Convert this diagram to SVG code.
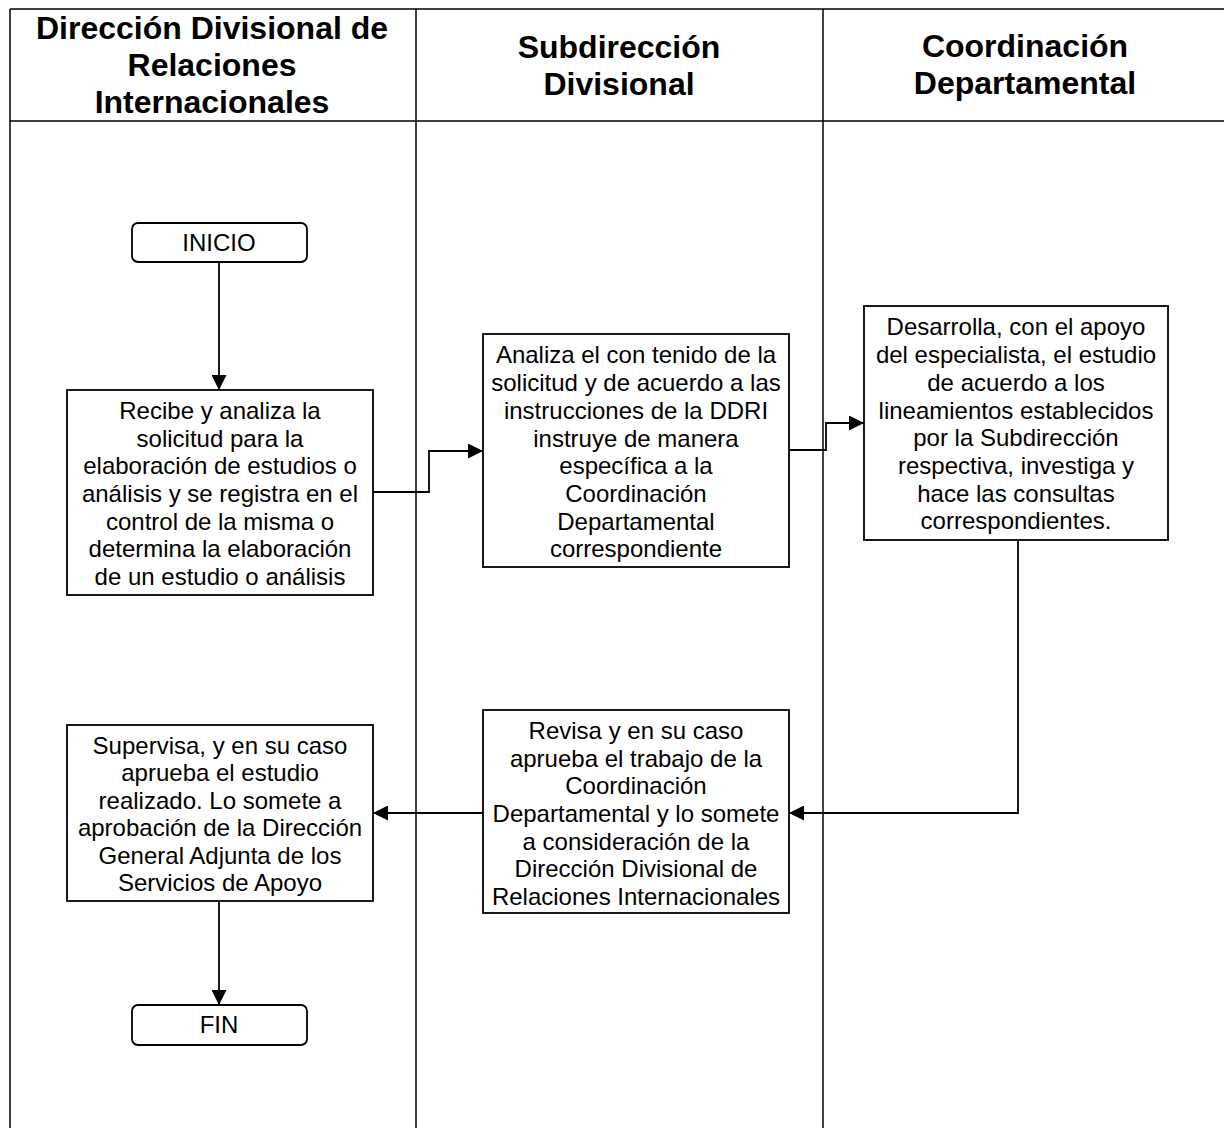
<svg xmlns="http://www.w3.org/2000/svg" width="1224" height="1128" viewBox="0 0 1224 1128">
<defs>
<style>
.frame{fill:none;stroke:#000;stroke-width:1.5}
.box{fill:#fff;stroke:#000;stroke-width:1.8}
.hd{font-family:"Liberation Sans",Arial,sans-serif;font-weight:bold;font-size:32px;text-anchor:middle;fill:#000}
.tx{font-family:"Liberation Sans",Arial,sans-serif;font-size:24px;text-anchor:middle;fill:#000}
.ln{fill:none;stroke:#000;stroke-width:1.8}
</style>
<marker id="ah" viewBox="0 0 10 10" refX="10" refY="5" markerWidth="15" markerHeight="15" markerUnits="userSpaceOnUse" orient="auto">
<path d="M0,0 L10,5 L0,10 z" fill="#000"/>
</marker>
</defs>
<rect width="1224" height="1128" fill="#fff"/>
<g id="frame">
<line class="frame" x1="10" y1="9" x2="1224" y2="9"/>
<line class="frame" x1="10" y1="121" x2="1224" y2="121"/>
<line class="frame" x1="10" y1="9" x2="10" y2="1128"/>
<line class="frame" x1="416" y1="9" x2="416" y2="1128"/>
<line class="frame" x1="823" y1="9" x2="823" y2="1128"/>
</g>
<g id="headers">
<text class="hd" x="212" y="39">Dirección Divisional de</text>
<text class="hd" x="212" y="76">Relaciones</text>
<text class="hd" x="212" y="113">Internacionales</text>
<text class="hd" x="619" y="58">Subdirección</text>
<text class="hd" x="619" y="95">Divisional</text>
<text class="hd" x="1025" y="57">Coordinación</text>
<text class="hd" x="1025" y="94">Departamental</text>
</g>
<g id="connectors">
<line class="ln" x1="219" y1="262" x2="219" y2="390" marker-end="url(#ah)"/>
<polyline class="ln" points="373,492 429,492 429,451 483,451" marker-end="url(#ah)"/>
<polyline class="ln" points="789,450 826,450 826,423 864,423" marker-end="url(#ah)"/>
<polyline class="ln" points="1018,540 1018,813 789,813" marker-end="url(#ah)"/>
<line class="ln" x1="483" y1="813" x2="373" y2="813" marker-end="url(#ah)"/>
<line class="ln" x1="219" y1="901" x2="219" y2="1005" marker-end="url(#ah)"/>
</g>
<g id="inicio">
<rect class="box" x="132" y="223" width="175" height="39" rx="6"/>
<text class="tx" x="219" y="251">INICIO</text>
</g>
<g id="recibe">
<rect class="box" x="67" y="390" width="306" height="205"/>
<text class="tx" x="220" y="419">Recibe y analiza la</text>
<text class="tx" x="220" y="447">solicitud para la</text>
<text class="tx" x="220" y="474">elaboración de estudios o</text>
<text class="tx" x="220" y="502">análisis y se registra en el</text>
<text class="tx" x="220" y="530">control de la misma o</text>
<text class="tx" x="220" y="557">determina la elaboración</text>
<text class="tx" x="220" y="585">de un estudio o análisis</text>
</g>
<g id="analiza">
<rect class="box" x="483" y="334" width="306" height="233"/>
<text class="tx" x="636" y="363">Analiza el con tenido de la</text>
<text class="tx" x="636" y="391">solicitud y de acuerdo a las</text>
<text class="tx" x="636" y="419">instrucciones de la DDRI</text>
<text class="tx" x="636" y="447">instruye de manera</text>
<text class="tx" x="636" y="474">específica a la</text>
<text class="tx" x="636" y="502">Coordinación</text>
<text class="tx" x="636" y="530">Departamental</text>
<text class="tx" x="636" y="557">correspondiente</text>
</g>
<g id="desarrolla">
<rect class="box" x="864" y="306" width="304" height="234"/>
<text class="tx" x="1016" y="335">Desarrolla, con el apoyo</text>
<text class="tx" x="1016" y="363">del especialista, el estudio</text>
<text class="tx" x="1016" y="391">de acuerdo a los</text>
<text class="tx" x="1016" y="419">lineamientos establecidos</text>
<text class="tx" x="1016" y="446">por la Subdirección</text>
<text class="tx" x="1016" y="474">respectiva, investiga y</text>
<text class="tx" x="1016" y="502">hace las consultas</text>
<text class="tx" x="1016" y="529">correspondientes.</text>
</g>
<g id="revisa">
<rect class="box" x="483" y="710" width="306" height="203"/>
<text class="tx" x="636" y="739">Revisa y en su caso</text>
<text class="tx" x="636" y="767">aprueba el trabajo de la</text>
<text class="tx" x="636" y="794">Coordinación</text>
<text class="tx" x="636" y="822">Departamental y lo somete</text>
<text class="tx" x="636" y="850">a consideración de la</text>
<text class="tx" x="636" y="877">Dirección Divisional de</text>
<text class="tx" x="636" y="905">Relaciones Internacionales</text>
</g>
<g id="supervisa">
<rect class="box" x="67" y="725" width="306" height="176"/>
<text class="tx" x="220" y="754">Supervisa, y en su caso</text>
<text class="tx" x="220" y="781">aprueba el estudio</text>
<text class="tx" x="220" y="809">realizado. Lo somete a</text>
<text class="tx" x="220" y="836">aprobación de la Dirección</text>
<text class="tx" x="220" y="864">General Adjunta de los</text>
<text class="tx" x="220" y="891">Servicios de Apoyo</text>
</g>
<g id="fin">
<rect class="box" x="132" y="1005" width="175" height="40" rx="6"/>
<text class="tx" x="219" y="1033">FIN</text>
</g>
</svg>
